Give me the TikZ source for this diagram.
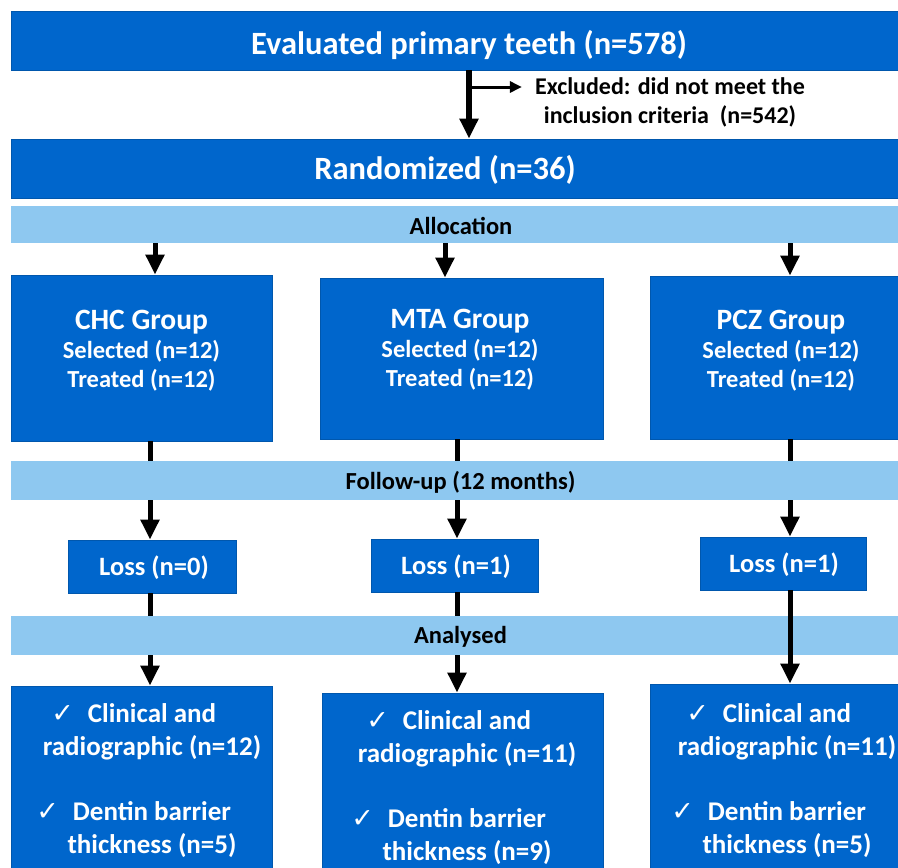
\documentclass[tikz,border=0pt]{standalone}
\usepackage{fontspec}
\setmainfont{Carlito}
\newfontfamily\symfont{DejaVu Sans}
\usetikzlibrary{arrows.meta}
\definecolor{boxblue}{RGB}{0,102,204}
\definecolor{bandblue}{RGB}{142,200,240}
\newcommand{\tick}{\llap{{\symfont\fontsize{27}{27}\selectfont ✓}\hspace{14pt}}}
\tikzset{
  bbox/.style={fill=boxblue, draw=boxblue!85!black, line width=.7pt, inner sep=0pt},
  band/.style={fill=bandblue, draw=none, inner sep=0pt, minimum width=919pt},
  wtxt/.style 2 args={text=white, inner sep=0pt, align=center, font=\bfseries\fontsize{#1}{#2}\selectfont},
  btxt/.style={text=black, inner sep=0pt, align=center, font=\bfseries\fontsize{24.5}{29}\selectfont},
  arr/.style={line width=5pt, -{Triangle[length=20pt,width=18pt]}},
  ln/.style={line width=5pt},
}
\begin{document}
\begin{tikzpicture}[x=1pt, y=-1pt]
\useasboundingbox (0,0) rectangle (898,868);
\fill[white] (0,0) rectangle (898,868);

% top part
\node[bbox, minimum width=919pt, minimum height=59pt] (eval) at (470.5,40.5) {};
\node[wtxt={32.5}{38}] (evalt) at (469,45) {Evaluated primary teeth (n=578)};
\node[bbox, minimum width=919pt, minimum height=59pt] (rand) at (470.5,168.5) {};
\node[wtxt={32.5}{38}] (randt) at (445,170) {Randomized (n=36)};
\node[btxt, inner xsep=13pt, font=\bfseries\fontsize{24}{29}\selectfont] (excl) at (670,102) {Excluded: did not meet the\\inclusion criteria\ \ (n=542)};
\coordinate (br) at (evalt |- 0,87);
\draw[arr, line width=6pt] (eval.south -| evalt) -- (rand.north -| evalt);
\draw[line width=3pt, -{Triangle[length=12pt,width=11pt]}] (br) -- (br -| excl.west);

% bands
\node[band, minimum height=37pt] (alloc) at (470.5,224.5) {};
\node[btxt] (alloct) at (461,226) {Allocation};
\node[band, minimum height=39pt] (follow) at (470.5,480.5) {};
\node[btxt] (followt) at (460.5,482) {Follow-up (12 months)};
\node[band, minimum height=39pt] (anal) at (470.5,635.5) {};
\node[btxt] (analt) at (460.5,637) {Analysed};

% columns
\coordinate (colA) at (155,0);
\coordinate (colB) at (445,0);
\coordinate (colC) at (790,0);
\coordinate (lowA) at (150,0);
\coordinate (lowB) at (457,0);
\coordinate (lowC) at (790,0);

% groups
\node[bbox, minimum width=261pt, minimum height=166pt] (chc) at (141.5,358) {};
\node[bbox, minimum width=283pt, minimum height=161pt] (mta) at (461.5,358.5) {};
\node[bbox, minimum width=266pt, minimum height=163pt] (pcz) at (783,357.5) {};
\node[wtxt={24.5}{29}] (chct) at (141.5,351) {{\fontsize{29.5}{33}\selectfont CHC Group}\\Selected (n=12)\\Treated (n=12)};
\node[wtxt={24.5}{29}] (mtat) at (460,350) {{\fontsize{29.5}{33}\selectfont MTA Group}\\Selected (n=12)\\Treated (n=12)};
\node[wtxt={24.5}{29}] (pczt) at (781,351) {{\fontsize{29.5}{33}\selectfont PCZ Group}\\Selected (n=12)\\Treated (n=12)};

% losses
\node[bbox, minimum width=168pt, minimum height=53pt] (lossA) at (152,566.5) {};
\node[bbox, minimum width=167pt, minimum height=53pt] (lossB) at (454.5,565.5) {};
\node[bbox, minimum width=166pt, minimum height=53pt] (lossC) at (783,563.5) {};
\node[wtxt={26.5}{30}] (lossAt) at (154,568) {Loss (n=0)};
\node[wtxt={26.5}{30}] (lossBt) at (456,567) {Loss (n=1)};
\node[wtxt={26.5}{30}] (lossCt) at (784,565) {Loss (n=1)};

% analysed
\node[bbox, minimum width=261pt, minimum height=200pt] (resA) at (141.5,786) {};
\node[bbox, minimum width=281pt, minimum height=200pt] (resB) at (462.5,793) {};
\node[bbox, minimum width=266pt, minimum height=200pt] (resC) at (783,784) {};
\node[wtxt={27}{33}] (resAt) at (152,781) {\tick Clinical and\\radiographic (n=12)\\[32pt]\tick Dentin barrier\\thickness (n=5)};
\node[wtxt={27}{33}] (resBt) at (467,788) {\tick Clinical and\\radiographic (n=11)\\[32pt]\tick Dentin barrier\\thickness (n=9)};
\node[wtxt={27}{33}] (resCt) at (787,781) {\tick Clinical and\\radiographic (n=11)\\[32pt]\tick Dentin barrier\\thickness (n=5)};

% connectors
\draw[arr] (alloc.south -| colA) -- (chc.north -| colA);
\draw[arr] (alloc.south -| colB) -- (mta.north -| colB);
\draw[arr] (alloc.south -| colC) -- (pcz.north -| colC);
\draw[ln] (chc.south -| lowA) -- (follow.north -| lowA);
\draw[ln] (mta.south -| lowB) -- (follow.north -| lowB);
\draw[ln] (pcz.south -| lowC) -- (follow.north -| lowC);
\draw[arr] (follow.south -| lowA) -- (lossA.north -| lowA);
\draw[arr] (follow.south -| lowB) -- (lossB.north -| lowB);
\draw[arr] (follow.south -| lowC) -- (lossC.north -| lowC);
\draw[ln] (lossA.south -| lowA) -- (anal.north -| lowA);
\draw[ln] (lossB.south -| lowB) -- (anal.north -| lowB);
\draw[arr] (anal.south -| lowA) -- (resA.north -| lowA);
\draw[arr] (anal.south -| lowB) -- (resB.north -| lowB);
\draw[arr] (lossC.south -| lowC) -- (resC.north -| lowC);

\end{tikzpicture}
\end{document}
